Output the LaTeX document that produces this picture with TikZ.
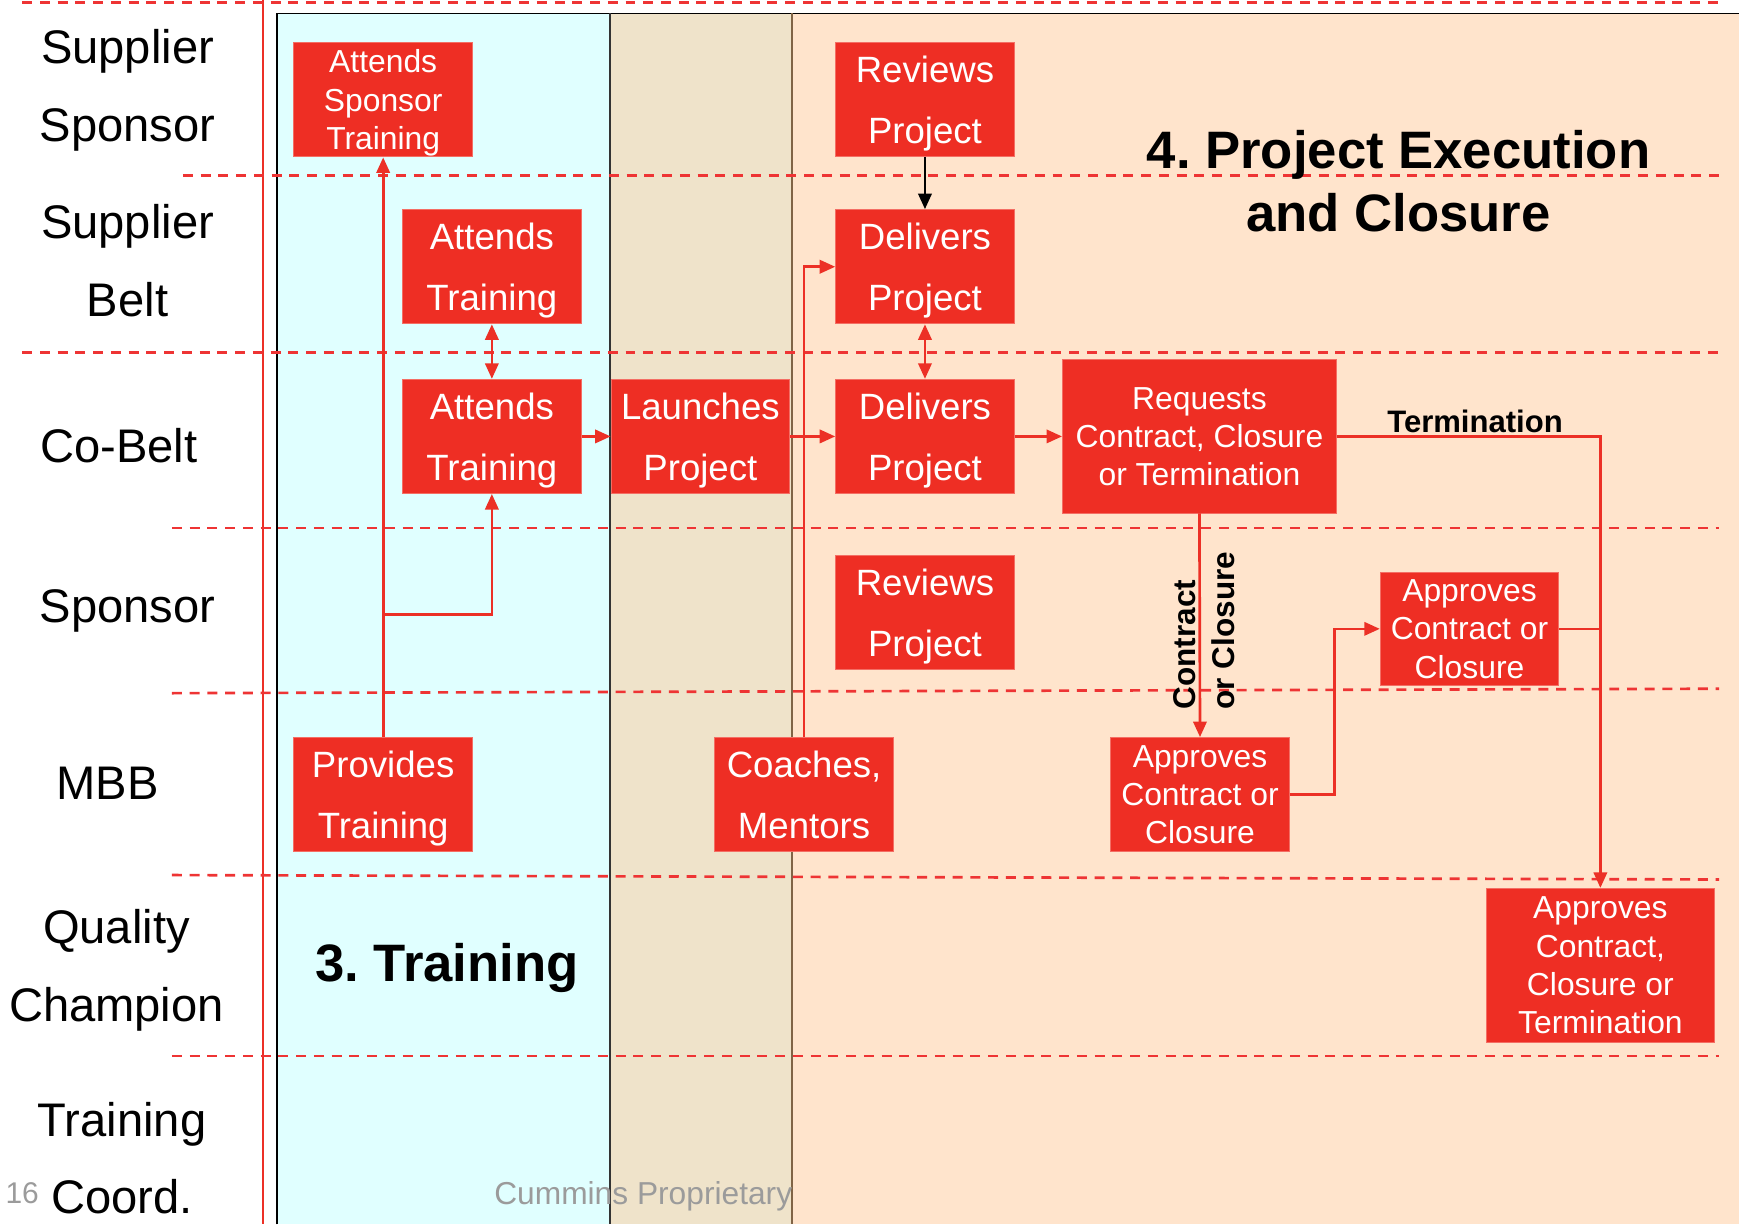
\documentclass[tikz,border=0pt]{standalone}
\usepackage{fontspec}
\setmainfont{Liberation Sans}
\usetikzlibrary{arrows.meta}
\definecolor{boxred}{RGB}{238,46,36}
\definecolor{boxedge}{RGB}{244,110,100}
\definecolor{linered}{RGB}{236,48,38}
\definecolor{dashred}{RGB}{238,52,52}
\definecolor{pcyan}{RGB}{224,255,255}
\definecolor{ptan}{RGB}{239,227,202}
\definecolor{ppeach}{RGB}{255,228,204}
\definecolor{pbrown}{RGB}{128,100,70}
\definecolor{footgray}{RGB}{155,155,155}
\frenchspacing
\begin{document}
\begin{tikzpicture}[x=0.5pt,y=-0.5pt,
  bigbox/.style={fill=boxred, draw=boxedge, line width=0.4pt, text=white, inner sep=0pt,
     minimum width=80.5pt, minimum height=51.5pt, align=center, text depth=-1pt,
     font=\fontsize{16.5}{27.5}\selectfont},
  smallbox/.style={fill=boxred, draw=boxedge, line width=0.4pt, text=white, inner sep=0pt,
     minimum width=80.5pt, minimum height=51.5pt, align=center, text depth=-2pt,
     font=\fontsize{14.35}{17.3}\selectfont},
  rowlabel/.style={font=\fontsize{21.25}{25}\selectfont, inner sep=0pt},
  title/.style={font=\fontsize{23.75}{28.5}\selectfont\bfseries\frenchspacing, inner sep=0pt, align=center},
  conn/.style={draw=linered, line width=1.2pt, -{Triangle[length=7pt,width=6pt]}},
  connplain/.style={draw=linered, line width=1.2pt},
  lanedash/.style={draw=dashred, line width=1.2pt, dash pattern=on 4.5pt off 3.5pt},
  panelline/.style={line width=0.7pt}
]
\useasboundingbox (0,0) rectangle (1568,1104);

% panels
\fill[pcyan] (250,12) rectangle (550,1104);
\fill[ptan] (550,12) rectangle (714,1104);
\fill[ppeach] (714,12) rectangle (1568,1104);
\draw[panelline, black] (250,1104) -- (250,12) -- (1568,12);
\draw[panelline, black!80] (550,12) -- (550,1104);
\draw[panelline, pbrown] (714,12) -- (714,1104);

% red vertical line
\draw[linered, line width=1pt] (237,0) -- (237,1104);

% lane separators
\draw[lanedash] (20,2) -- (1550,2);
\draw[lanedash] (165,158) -- (1550,158);
\draw[lanedash] (20,318) -- (1550,318);
\draw[lanedash] (155,476) -- (1550,476);
\draw[lanedash] (155,625) -- (1550,621);
\draw[lanedash] (155,789) -- (1550,793);
\draw[lanedash] (155,952) -- (1550,952);

% row labels
\node[rowlabel] (l1a) at (115,46) {Supplier};
\node[rowlabel] (l1b) at (115,117) {Sponsor};
\node[rowlabel] (l2a) at (115,204) {Supplier};
\node[rowlabel] (l2b) at (115,270) {Belt};
\node[rowlabel] (l3) at (107,402) {Co-Belt};
\node[rowlabel] (l4) at (115,551) {Sponsor};
\node[rowlabel] (l5) at (97,706) {MBB};
\node[rowlabel] (l6a) at (105,840) {Quality};
\node[rowlabel] (l6b) at (105,910) {Champion};
\node[rowlabel] (l7a) at (110,1014) {Training};
\node[rowlabel] (l7b) at (110,1079) {Coord.};
\node[font=\fontsize{13.5}{16}\selectfont, text=footgray, inner sep=0pt] (pg) at (20,1076) {16};
\node[font=\fontsize{14.3}{17}\selectfont, text=footgray, inner sep=0pt] (foot) at (580,1079) {Cummins Proprietary};

% titles
\node[title] (t4) at (1261,163) {4. Project Execution\\and Closure};
\node[title] (t3) at (403,873) {3. Training};

% boxes
\node[smallbox] (ASST) at (345.5,90) {Attends\\Sponsor\\Training};
\node[bigbox] (AT1) at (443.5,240.5) {Attends\\Training};
\node[bigbox] (AT2) at (443.5,393.5) {Attends\\Training};
\node[bigbox] (LP) at (631.5,393.5) {Launches\\Project};
\node[bigbox] (RP1) at (834,89.5) {Reviews\\Project};
\node[bigbox] (DP1) at (834,240.5) {Delivers\\Project};
\node[bigbox] (DP2) at (834,393.5) {Delivers\\Project};
\node[smallbox, minimum width=123.5pt, minimum height=69pt] (RC) at (1081.5,393.5) {Requests\\Contract, Closure\\or Termination};
\node[bigbox] (RP2) at (834,552.5) {Reviews\\Project};
\node[bigbox] (PT) at (345.5,716.5) {Provides\\Training};
\node[bigbox] (CM) at (725,716.5) {Coaches,\\Mentors};
\node[smallbox] (ACC1) at (1082,716.5) {Approves\\Contract or\\Closure};
\node[smallbox, minimum height=51pt] (ACC2) at (1325,567) {Approves\\Contract or\\Closure};
\node[smallbox, minimum width=103pt, minimum height=69.5pt] (ACCT) at (1443,870.5) {Approves\\Contract,\\Closure or\\Termination};

% connectors
\coordinate (brT) at (345.5,554);
\coordinate (j1) at (1203,716.5);
\draw[conn] (PT.north) -- (ASST.south);
\draw[conn] (brT) -| (AT2.south);
\draw[conn, {Triangle[length=7pt,width=6pt]}-{Triangle[length=7pt,width=6pt]}] (AT1.south) -- (AT2.north);
\draw[conn] (AT2.east) -- (LP.west);
\draw[conn] (LP.east) -- (DP2.west);
\draw[conn] (CM.north) |- (DP1.west);
\draw[conn, draw=black] (RP1.south) -- (DP1.north);
\draw[conn, {Triangle[length=7pt,width=6pt]}-{Triangle[length=7pt,width=6pt]}] (DP1.south) -- (DP2.north);
\draw[conn] (DP2.east) -- (RC.west);
\draw[conn] (RC.south) -- (ACC1.north);
\draw[conn] (ACC1.east) -- (j1) |- (ACC2.west);
\draw[conn] (RC.east) -| (ACCT.north);
\draw[connplain] (ACC2.east) -- (ACC2.east -| ACCT.north);

% connector labels
\node[font=\fontsize{14}{17}\selectfont\bfseries, inner sep=0pt] (lterm) at (1330,380) {Termination};
\node[font=\fontsize{14.2}{17}\selectfont\bfseries, inner sep=0pt, rotate=90, anchor=west] (lcon) at (1068,640) {Contract};
\node[font=\fontsize{14.2}{17}\selectfont\bfseries, inner sep=0pt, rotate=90, anchor=west] (lclo) at (1103,640) {or Closure};
\end{tikzpicture}
\end{document}
